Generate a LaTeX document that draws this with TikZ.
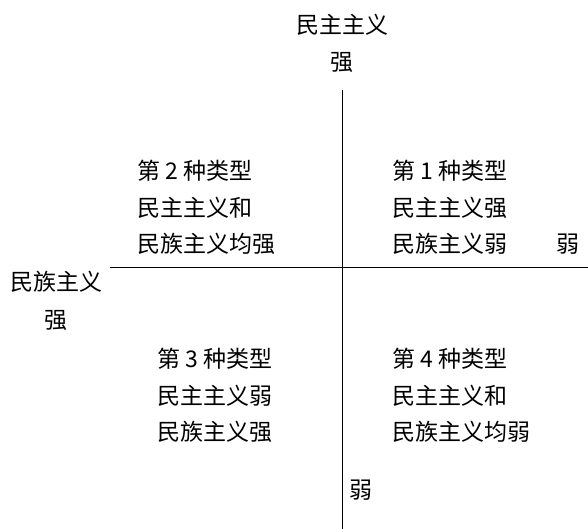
\documentclass[tikz,border=0pt]{standalone}
\usepackage{fontspec}
\setmainfont{Noto Sans CJK SC}
\usepackage{tikz}
\tikzstyle{axislabel} = [inner sep=0pt, font=\fontsize{23}{36}\selectfont]
\tikzstyle{quadrant} = [inner sep=0pt, anchor=north west, align=left, font=\fontsize{23}{36.5}\selectfont]
\tikzstyle{axis} = [line width=0.8pt, black]

\begin{document}
\begin{tikzpicture}[x=1pt, y=1pt]
\useasboundingbox (0,0) rectangle (588,-529);

\node [axislabel] (demo_name) at (342,-25) {民主主义};
\node [axislabel] (demo_strong) at (342,-62) {强};
\node [axislabel] (nat_name) at (56,-282) {民族主义};
\node [axislabel] (nat_strong) at (56,-320) {强};
\node [axislabel] (nat_weak) at (568,-244) {弱};
\node [axislabel] (demo_weak) at (361,-490) {弱};

\node [quadrant] (type_two) at (137,-160) {第 2 种类型\\民主主义和\\民族主义均强};
\node [quadrant] (type_one) at (392,-160) {第 1 种类型\\民主主义强\\民族主义弱};
\node [quadrant] (type_three) at (157,-348) {第 3 种类型\\民主主义弱\\民族主义强};
\node [quadrant] (type_four) at (392,-348) {第 4 种类型\\民主主义和\\民族主义均弱};

\coordinate (v_top) at (342,-90);
\coordinate (v_bot) at (342,-529);
\coordinate (h_left) at (110,-267);
\coordinate (h_right) at (588,-267);

\draw [axis] (v_top) -- (v_bot);
\draw [axis] (h_left) -- (h_right);

\end{tikzpicture}
\end{document}
